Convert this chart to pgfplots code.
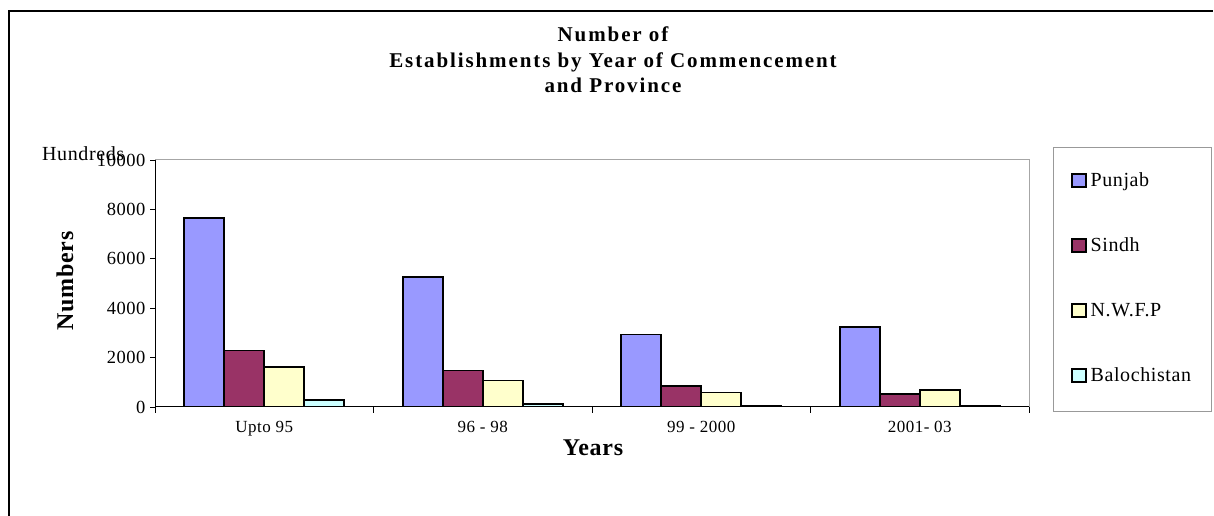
\documentclass[border=0pt]{standalone}
\usepackage{pgfplots}
\pgfplotsset{compat=1.18}
\usepackage{fontspec}
\setmainfont[LetterSpace=3]{Liberation Serif}
\newfontfamily\titlefont[LetterSpace=9]{Liberation Serif}
\newfontfamily\labfont[LetterSpace=3]{Liberation Serif}
\definecolor{punjab}{HTML}{9999FF}
\definecolor{sindh}{HTML}{993366}
\definecolor{nwfp}{HTML}{FFFFCC}
\definecolor{baloch}{HTML}{CCFFFF}
\begin{document}
\begin{tikzpicture}
\useasboundingbox (0pt,0pt) rectangle (1214pt,516pt);
\draw[line width=1.5pt] (9pt,0pt) -- (9pt,505pt) -- (1213pt,505pt);
\node[anchor=base,font=\titlefont\fontsize{21}{21}\selectfont\bfseries] at (613pt,474pt) {Number of};
\node[anchor=base,font=\titlefont\fontsize{21}{21}\selectfont\bfseries] at (613pt,448pt) {Establishments by Year of Commencement};
\node[anchor=base,font=\titlefont\fontsize{21}{21}\selectfont\bfseries] at (613pt,423pt) {and Province};
\node[anchor=base west,inner sep=0pt,font=\fontsize{20}{20}\selectfont] at (42pt,355pt) {Hundreds};
\node[rotate=90,inner sep=0pt,font=\labfont\fontsize{24}{24}\selectfont\bfseries] at (65pt,235pt) {Numbers};
\node[anchor=base,inner sep=0pt,font=\labfont\fontsize{24}{24}\selectfont\bfseries] at (593pt,60pt) {Years};
\begin{axis}[
  at={(155pt,109pt)}, anchor=south west,
  scale only axis, width=874pt, height=247pt,
  xmin=-0.5, xmax=3.5, ymin=0, ymax=10000,
  ytick={0,2000,4000,6000,8000,10000},
  scaled y ticks=false,
  xtick={0,1,2,3},
  xticklabels={Upto 95, 96 - 98, 99 - 2000, 2001- 03},
  minor xtick={-0.5,0.5,1.5,2.5,3.5},
  xtick pos=bottom, ytick pos=left, tick align=outside,
  major tick length=5pt, minor tick length=6pt,
  major x tick style={draw=none},
  tick style={black, line width=0.8pt},
  axis line style={gray!70, line width=1pt},
  xticklabel style={font=\fontsize{17}{17}\selectfont, yshift=-6pt},
  yticklabel style={font=\fontsize{18.5}{18.5}\selectfont, xshift=-1pt},
  /pgf/number format/assume math mode=true,
  /pgf/number format/set thousands separator={},
  ybar, bar width=40pt,
  legend style={at={(rel axis cs:1.0275,1.0526)}, anchor=north west,
    draw=gray!80, line width=0.8pt, fill=white,
    font=\fontsize{20}{20}\selectfont,
    inner xsep=18pt, inner ysep=24pt, row sep=44pt,
    nodes={inner sep=2pt, text height=13pt, text depth=4pt},
    /tikz/every odd column/.append style={column sep=2pt}},
  legend cell align=left,
  legend image code/.code={\draw[#1,line width=1.2pt] (0pt,-5pt) rectangle (14pt,8pt);},
]
\addplot[fill=punjab, draw=black, line width=1.6pt, bar shift=-60pt] coordinates {(0,7660) (1,5260) (2,2940) (3,3250)};
\addplot[fill=sindh, draw=black, line width=1.6pt, bar shift=-20pt] coordinates {(0,2280) (1,1470) (2,840) (3,515)};
\addplot[fill=nwfp, draw=black, line width=1.6pt, bar shift=20pt] coordinates {(0,1630) (1,1080) (2,595) (3,690)};
\addplot[fill=baloch, draw=black, line width=1.6pt, bar shift=60pt] coordinates {(0,285) (1,120) (2,50) (3,40)};
\legend{Punjab, Sindh, N.W.F.P, Balochistan}
\draw[black, line width=1pt] (rel axis cs:0,1) -- (rel axis cs:0,0) -- (rel axis cs:1,0);
\end{axis}
\end{tikzpicture}
\end{document}
